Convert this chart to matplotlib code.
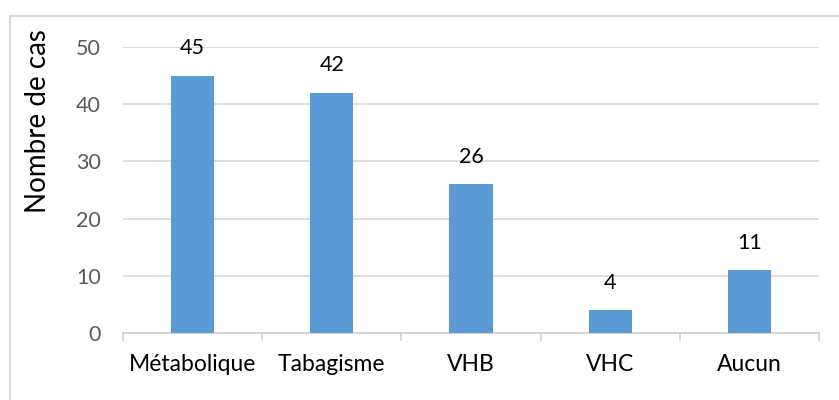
import matplotlib.pyplot as plt
from matplotlib.lines import Line2D

# Data
categories = ['Métabolique', 'Tabagisme', 'VHB', 'VHC', 'Aucun']
nb_cas = [45, 42, 26, 4, 11]
yticks = [0, 10, 20, 30, 40, 50]

plt.rcParams['font.family'] = ['Lato', 'DejaVu Sans']

fig = plt.figure(figsize=(8.39, 4.0), dpi=100)
ax = fig.add_axes([123/839, 67/400, 696/839, 286/400])

x = range(len(categories))
bars = ax.bar(x, nb_cas, width=0.31, color='#5B9BD5', zorder=3)

for xi, v in zip(x, nb_cas):
    ax.text(xi, v + 4.8, str(v), ha='center', va='center', fontsize=15.5, color='#000000')

ax.set_xlim(-0.5, len(categories) - 0.5)
ax.set_ylim(0, 50)
ax.set_yticks(yticks)
ax.set_xticks(list(x))
ax.set_xticklabels(categories, fontsize=16.5, color='#000000')
ax.tick_params(axis='x', length=0, pad=15)
ax.tick_params(axis='y', length=0, pad=16, labelsize=15.5, labelcolor='#595959')
ax.grid(axis='y', color='#D9D9D9', linewidth=1.2, zorder=0)

for s in ['top', 'right', 'left']:
    ax.spines[s].set_visible(False)
ax.spines['bottom'].set_color('#D0D0D0')
ax.spines['bottom'].set_linewidth(1.2)

# category separators below axis
for b in [i - 0.5 for i in range(len(categories) + 1)]:
    ax.plot([b, b], [0, -1.3], color='#D0D0D0', linewidth=1.2, clip_on=False)

fig.text(38/839, 1 - 121/400, 'Nombre de cas', rotation=90, ha='center', va='center',
         fontsize=20, color='#000000')

# chart border (partially visible)
fig.add_artist(Line2D([10/839, 10/839], [0, 1 - 16/400], transform=fig.transFigure,
                      color='#D0D0D0', linewidth=1.2))
fig.add_artist(Line2D([10/839, 1], [1 - 16/400, 1 - 16/400], transform=fig.transFigure,
                      color='#D0D0D0', linewidth=1.2))

fig.savefig('out.png', dpi=100)
